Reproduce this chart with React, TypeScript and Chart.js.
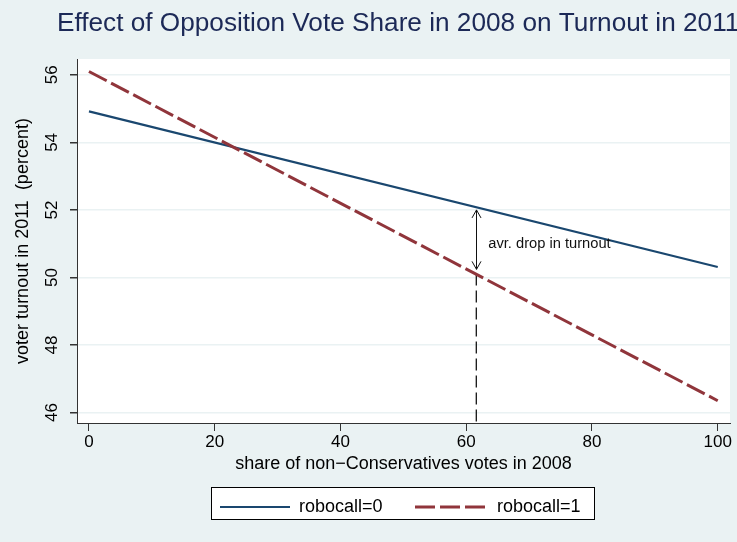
import { useEffect, useRef } from 'react';
import { Chart, registerables } from 'chart.js';

Chart.register(...registerables);

// ---------- data ----------
const titleText = 'Effect of Opposition Vote Share in 2008 on Turnout in 2011';
const xAxisTitle = 'share of non\u2212Conservatives votes in 2008';
const yAxisTitle = 'voter turnout in 2011  (percent)';
const seriesLabels = ['robocall=0', 'robocall=1'];
const xEnds = [0, 100];
const turnoutRobocall0 = [54.92, 50.31];
const turnoutRobocall1 = [56.1, 46.35];
const xTicks = [0, 20, 40, 60, 80, 100];
const yTicks = [46, 48, 50, 52, 54, 56];
const xRange = [-1.9, 101.95];
const yRange = [45.69, 56.47];
const dropX = [61.55, 61.55];
const dropY = [50.12, 45.69];
const arrowY = [52.0, 50.24];
const annotationText = 'avr. drop in turnout';
const annotationXY = [63.5, 50.86];

const FONT = "'Liberation Sans', Arial, Helvetica, sans-serif";
const BG = '#eaf2f3';
const BLUE = '#1a476f';
const RED = '#90353b';
const AXIS = '#333333';

const decorPlugin = {
  id: 'decor',
  beforeDraw(chart: any) {
    const { ctx, chartArea } = chart;
    ctx.save();
    ctx.fillStyle = BG;
    ctx.fillRect(0, 0, chart.width, chart.height);
    ctx.fillStyle = '#ffffff';
    ctx.fillRect(chartArea.left, chartArea.top, chartArea.right - chartArea.left, chartArea.bottom - chartArea.top);
    ctx.restore();
  },
  afterDatasetsDraw(chart: any) {
    const { ctx } = chart;
    const xs = chart.scales.x;
    const ys = chart.scales.y;
    const px = Math.round(xs.getPixelForValue(dropX[0])) + 0.5;
    const top = ys.getPixelForValue(arrowY[0]);
    const bot = ys.getPixelForValue(arrowY[1]);
    ctx.save();
    ctx.strokeStyle = '#111111';
    ctx.lineWidth = 1;
    ctx.beginPath();
    ctx.moveTo(px, top);
    ctx.lineTo(px, bot);
    ctx.moveTo(px - 4.5, top + 8);
    ctx.lineTo(px, top);
    ctx.lineTo(px + 4.5, top + 8);
    ctx.moveTo(px - 4.5, bot - 8);
    ctx.lineTo(px, bot);
    ctx.lineTo(px + 4.5, bot - 8);
    ctx.stroke();
    ctx.fillStyle = '#111111';
    ctx.font = `14.7px ${FONT}`;
    ctx.textBaseline = 'alphabetic';
    ctx.textAlign = 'left';
    ctx.fillText(annotationText, xs.getPixelForValue(annotationXY[0]), ys.getPixelForValue(annotationXY[1]));
    ctx.restore();
  },
  afterDraw(chart: any) {
    const { ctx } = chart;
    ctx.save();
    ctx.fillStyle = '#1c2957';
    ctx.font = `26.2px ${FONT}`;
    ctx.textBaseline = 'alphabetic';
    ctx.textAlign = 'left';
    ctx.fillText(titleText, 57, 31);
    // legend
    const bx = 211.5, by = 487.5, bw = 383, bh = 32;
    ctx.fillStyle = '#ffffff';
    ctx.fillRect(bx, by, bw, bh);
    ctx.strokeStyle = '#000000';
    ctx.lineWidth = 1;
    ctx.strokeRect(bx, by, bw, bh);
    const items = [
      { x0: 220, x1: 290, tx: 299 },
      { x0: 415, x1: 485, tx: 497 },
    ];
    const ly = 507;
    ctx.font = `18px ${FONT}`;
    ctx.fillStyle = '#000000';
    items.forEach((it, i) => {
      const ds = chart.data.datasets[i];
      ctx.save();
      ctx.strokeStyle = ds.borderColor;
      ctx.lineWidth = ds.borderWidth;
      ctx.setLineDash(ds.borderDash || []);
      ctx.beginPath();
      ctx.moveTo(it.x0, ly);
      ctx.lineTo(it.x1, ly);
      ctx.stroke();
      ctx.restore();
      ctx.fillText(seriesLabels[i], it.tx, 512);
    });
    ctx.restore();
  },
};

export default function App() {
  const ref = useRef<HTMLCanvasElement>(null);
  useEffect(() => {
    document.body.style.margin = '0';
    const canvas = ref.current!;
    const chart = new Chart(canvas, {
      type: 'line',
      data: {
        datasets: [
          {
            label: seriesLabels[0],
            data: xEnds.map((x, i) => ({ x, y: turnoutRobocall0[i] })),
            borderColor: BLUE,
            borderWidth: 2.2,
            pointRadius: 0,
            order: 2,
          },
          {
            label: seriesLabels[1],
            data: xEnds.map((x, i) => ({ x, y: turnoutRobocall1[i] })),
            borderColor: RED,
            borderWidth: 3,
            borderDash: [20, 5],
            pointRadius: 0,
            order: 1,
          },
          {
            label: 'drop',
            data: dropX.map((x, i) => ({ x: Math.round(x * 10) / 10, y: dropY[i] })),
            borderColor: '#000000',
            borderWidth: 1.2,
            borderDash: [12, 5],
            pointRadius: 0,
            order: 3,
          },
        ],
      },
      options: {
        animation: false,
        responsive: false,
        devicePixelRatio: 1,
        layout: { padding: { left: 0, right: 7, top: 59, bottom: 67 } },
        plugins: { legend: { display: false }, title: { display: false }, tooltip: { enabled: false } },
        scales: {
          x: {
            type: 'linear',
            min: xRange[0],
            max: xRange[1],
            afterFit: (s: any) => { s.height = 52; },
            afterBuildTicks: (s: any) => { s.ticks = xTicks.map((v) => ({ value: v })); },
            grid: { display: true, drawOnChartArea: false, drawTicks: true, tickLength: 8, tickColor: AXIS },
            border: { display: true, color: AXIS, width: 1 },
            ticks: { color: '#000', font: { family: FONT, size: 17 }, padding: 1, maxRotation: 0, autoSkip: false },
            title: { display: true, text: xAxisTitle, color: '#000', font: { family: FONT, size: 18 }, padding: 0 },
          },
          y: {
            type: 'linear',
            min: yRange[0],
            max: yRange[1],
            afterFit: (s: any) => { s.width = 77; },
            afterBuildTicks: (s: any) => { s.ticks = yTicks.map((v) => ({ value: v })); },
            grid: { color: BG, lineWidth: 1.5, tickColor: AXIS, tickLength: 7, drawTicks: true },
            border: { display: true, color: AXIS, width: 1 },
            ticks: { color: '#000', font: { family: FONT, size: 17 }, padding: 8, minRotation: 90, maxRotation: 90, crossAlign: 'center', autoSkip: false },
            title: { display: true, text: yAxisTitle, color: '#000', font: { family: FONT, size: 18 }, padding: { top: 12 } },
          },
        },
      },
      plugins: [decorPlugin],
    } as any);
    return () => chart.destroy();
  }, []);
  return (
    <div style={{ position: 'absolute', left: 0, top: 0, width: 737, height: 542 }}>
      <canvas ref={ref} width={737} height={542} style={{ display: 'block' }} />
    </div>
  );
}
